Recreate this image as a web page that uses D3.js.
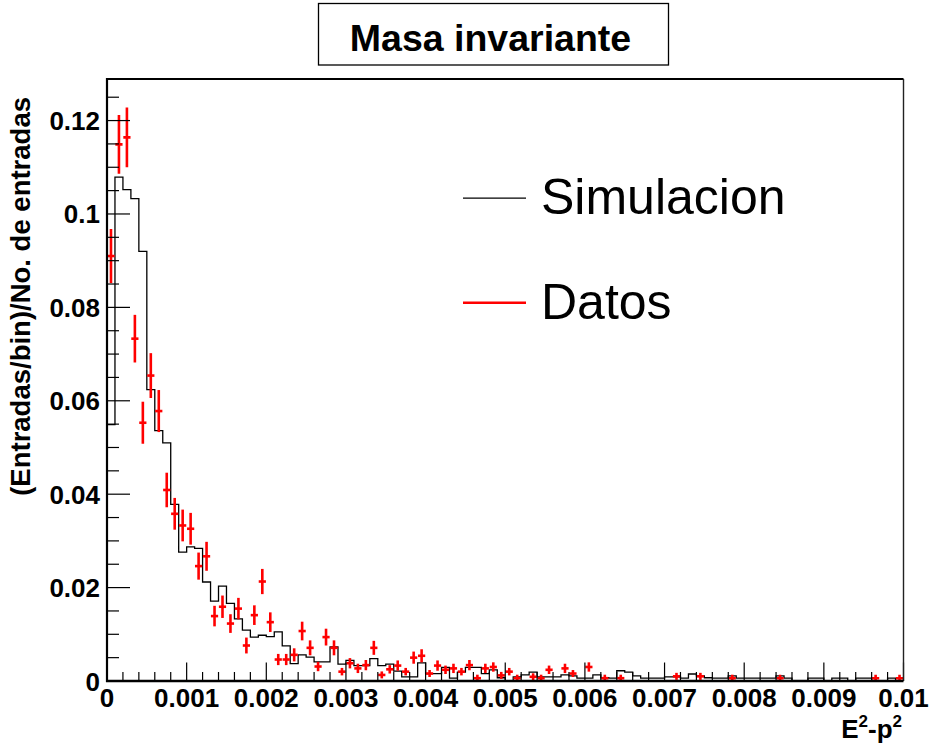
<!DOCTYPE html>
<html>
<head>
<meta charset="utf-8">
<script src="https://cdn.jsdelivr.net/npm/d3@7"></script>
<style>
  html, body { margin: 0; padding: 0; background: #fff; }
  svg { display: block; }
  text { font-family: "Liberation Sans", Arial, Helvetica, sans-serif; }
</style>
</head>
<body>
<svg id="chart" width="930" height="748"></svg>
<script>
// ---------------- data ----------------
const titleText = "Masa invariante";
const xTitle = ["E", "2", "-p", "2"];
const yTitle = "(Entradas/bin)/No. de entradas";
const legendLabels = ["Simulacion", "Datos"];
const xRange = [0, 0.01];
const nBins = 100;
const yMax = 0.1289;
const xTickValues = [0, 0.001, 0.002, 0.003, 0.004, 0.005, 0.006, 0.007, 0.008, 0.009, 0.01];
const xTickLabels = ["0", "0.001", "0.002", "0.003", "0.004", "0.005", "0.006", "0.007", "0.008", "0.009", "0.01"];
const yTickValues = [0, 0.02, 0.04, 0.06, 0.08, 0.1, 0.12];
const yTickLabels = ["0", "0.02", "0.04", "0.06", "0.08", "0.1", "0.12"];

// Simulation histogram, contents of the 100 bins
const simValues = [
  0.0549, 0.1079, 0.1052, 0.1033, 0.0920, 0.0624, 0.0536, 0.0510, 0.0378, 0.0276,
  0.0287, 0.0284, 0.0212, 0.0171, 0.0203, 0.0166, 0.0133, 0.0109, 0.0094, 0.0098,
  0.0095, 0.0105, 0.0075, 0.0037, 0.0056, 0.0051, 0.0041, 0.0041, 0.0073, 0.0036,
  0.0044, 0.0033, 0.0033, 0.0048, 0.0033, 0.0036, 0.0021, 0.0009, 0.0009, 0.0039,
  0.0016, 0.0016, 0.0029, 0.0006, 0.0019, 0.0029, 0.0029, 0.0016, 0.0024, 0.0007,
  0.0000, 0.0009, 0.0013, 0.0019, 0.0009, 0.0009, 0.0009, 0.0013, 0.0011, 0.0006,
  0.0006, 0.0013, 0.0007, 0.0006, 0.0022, 0.0019, 0.0011, 0.0006, 0.0006, 0.0006,
  0.0009, 0.0009, 0.0006, 0.0015, 0.0011, 0.0007, 0.0006, 0.0006, 0.0011, 0.0006,
  0.0006, 0.0006, 0.0006, 0.0006, 0.0011, 0.0006, 0.0000, 0.0000, 0.0006, 0.0006,
  0.0000, 0.0006, 0.0006, 0.0000, 0.0006, 0.0006, 0.0000, 0.0000, 0.0006, 0.0000
];

// Data points (bin contents) and their vertical errors
const dataValues = [
  0.0910, 0.1149, 0.1164, 0.0733, 0.0553, 0.0654, 0.0578, 0.0409, 0.0358, 0.0333,
  0.0326, 0.0246, 0.0267, 0.0139, 0.0159, 0.0123, 0.0155, 0.0076, 0.0141, 0.0213,
  0.0126, 0.0046, 0.0046, 0.0056, 0.0107, 0.0071, 0.0031, 0.0094, 0.0071, 0.0020,
  0.0038, 0.0027, 0.0034, 0.0071, 0.0013, 0.0025, 0.0033, 0.0020, 0.0050, 0.0054,
  0.0016, 0.0033, 0.0024, 0.0027, 0.0020, 0.0034, 0.0006, 0.0027, 0.0030, 0.0012,
  0.0020, 0.0006, 0.0000, 0.0009, 0.0006, 0.0024, 0.0000, 0.0027, 0.0016, 0.0000,
  0.0030, 0.0000, 0.0006, 0.0000, 0.0006, 0.0000, 0.0000, 0.0000, 0.0000, 0.0000,
  0.0000, 0.0010, 0.0000, 0.0000, 0.0010, 0.0000, 0.0000, 0.0000, 0.0006, 0.0000,
  0.0000, 0.0000, 0.0000, 0.0000, 0.0006, 0.0000, 0.0000, 0.0000, 0.0000, 0.0000,
  0.0000, 0.0000, 0.0000, 0.0000, 0.0000, 0.0000, 0.0006, 0.0000, 0.0000, 0.0006
];
const dataErrors = [
  0.0058, 0.0063, 0.0064, 0.0051, 0.0045, 0.0048, 0.0045, 0.0037, 0.0034, 0.0034,
  0.0034, 0.0029, 0.0031, 0.0022, 0.0024, 0.0020, 0.0023, 0.0017, 0.0021, 0.0027,
  0.0021, 0.0012, 0.0012, 0.0014, 0.0020, 0.0016, 0.0010, 0.0018, 0.0016, 0.0008,
  0.0011, 0.0010, 0.0011, 0.0015, 0.0007, 0.0009, 0.0011, 0.0008, 0.0013, 0.0014,
  0.0007, 0.0011, 0.0009, 0.0010, 0.0008, 0.0011, 0.0005, 0.0010, 0.0010, 0.0006,
  0.0008, 0.0005, 0.0000, 0.0006, 0.0005, 0.0009, 0.0000, 0.0010, 0.0007, 0.0000,
  0.0010, 0.0000, 0.0005, 0.0000, 0.0005, 0.0000, 0.0000, 0.0000, 0.0000, 0.0000,
  0.0000, 0.0006, 0.0000, 0.0000, 0.0006, 0.0000, 0.0000, 0.0000, 0.0005, 0.0000,
  0.0000, 0.0000, 0.0000, 0.0000, 0.0005, 0.0000, 0.0000, 0.0000, 0.0000, 0.0000,
  0.0000, 0.0000, 0.0000, 0.0000, 0.0000, 0.0000, 0.0005, 0.0000, 0.0000, 0.0005
];

// ---------------- layout ----------------
const frame = { left: 107, right: 903.5, top: 79, bottom: 681 };
const svg = d3.select("#chart");
const x = d3.scaleLinear().domain(xRange).range([frame.left, frame.right]);
const y = d3.scaleLinear().domain([0, yMax]).range([frame.bottom, frame.top]);
const binW = (xRange[1] - xRange[0]) / nBins;
const edge = i => xRange[0] + i * binW;

svg.append("defs").append("clipPath").attr("id", "clip")
  .append("rect").attr("x", frame.left).attr("y", frame.top)
  .attr("width", frame.right - frame.left).attr("height", frame.bottom - frame.top);

const plot = svg.append("g").attr("clip-path", "url(#clip)");

// Simulation histogram outline
const histPts = [[edge(0), 0]];
simValues.forEach((v, i) => { histPts.push([edge(i), v]); histPts.push([edge(i + 1), v]); });
histPts.push([edge(nBins), 0]);
plot.append("path")
  .attr("d", d3.line().x(d => x(d[0])).y(d => y(d[1]))(histPts))
  .attr("fill", "none").attr("stroke", "#000").attr("stroke-width", 1.3);

// Data points with errors
const pts = dataValues.map((v, i) => ({ c: edge(i) + binW / 2, v, e: dataErrors[i] })).filter(d => d.v > 0);
const dg = plot.append("g").attr("stroke", "#ff0000").attr("stroke-width", 2.6);
dg.selectAll("line.err").data(pts).join("line").attr("class", "err")
  .attr("x1", d => x(d.c)).attr("x2", d => x(d.c))
  .attr("y1", d => Math.min(y(d.v + d.e), y(d.v) - 3.5))
  .attr("y2", d => Math.max(y(d.v - d.e), y(d.v) + 3.5));
dg.selectAll("line.mk").data(pts).join("line").attr("class", "mk")
  .attr("x1", d => x(d.c) - 3.6).attr("x2", d => x(d.c) + 3.6)
  .attr("y1", d => y(d.v)).attr("y2", d => y(d.v));

// Ticks (drawn inside the frame, ROOT style)
const ax = svg.append("g").attr("stroke", "#000").attr("stroke-width", 1.2);
const xMinor = d3.range(0, 51).map(k => k * 0.0002);
ax.selectAll("line.xt").data(xMinor).join("line").attr("class", "xt")
  .attr("x1", d => x(d)).attr("x2", d => x(d))
  .attr("y1", frame.bottom)
  .attr("y2", d => frame.bottom - (xTickValues.some(t => Math.abs(t - d) < 1e-9) ? 18.5 : 9));
const yMinor = d3.range(0, 26).map(k => k * 0.005).filter(v => v <= yMax);
ax.selectAll("line.yt").data(yMinor).join("line").attr("class", "yt")
  .attr("y1", d => y(d)).attr("y2", d => y(d))
  .attr("x1", frame.left)
  .attr("x2", d => frame.left + (yTickValues.some(t => Math.abs(t - d) < 1e-9) ? 23 : 12));

// Frame
svg.append("line").attr("x1", frame.left).attr("x2", frame.right).attr("y1", frame.top).attr("y2", frame.top)
  .attr("stroke", "#000").attr("stroke-width", 2);
svg.append("line").attr("x1", frame.right).attr("x2", frame.right).attr("y1", frame.top).attr("y2", frame.bottom)
  .attr("stroke", "#222").attr("stroke-width", 1.4);
svg.append("line").attr("x1", frame.left).attr("x2", frame.left).attr("y1", frame.top - 1).attr("y2", frame.bottom + 1)
  .attr("stroke", "#000").attr("stroke-width", 2.2);
svg.append("line").attr("x1", frame.left - 1).attr("x2", frame.right).attr("y1", frame.bottom).attr("y2", frame.bottom)
  .attr("stroke", "#000").attr("stroke-width", 2.4);

// Tick labels
svg.append("g").selectAll("text").data(xTickValues).join("text")
  .attr("x", d => x(d)).attr("y", 707)
  .attr("text-anchor", "middle").attr("font-size", 26).attr("font-weight", "bold")
  .text((d, i) => xTickLabels[i]);
svg.append("g").selectAll("text").data(yTickValues).join("text")
  .attr("x", 100).attr("y", d => y(d) + 9.5)
  .attr("text-anchor", "end").attr("font-size", 26).attr("font-weight", "bold")
  .text((d, i) => yTickLabels[i]);

// Axis titles
const xt = svg.append("text").attr("x", 902).attr("y", 738).attr("text-anchor", "end")
  .attr("font-size", 26).attr("font-weight", "bold");
xt.append("tspan").text(xTitle[0]);
xt.append("tspan").attr("font-size", 17).attr("dy", -11.5).text(xTitle[1]);
xt.append("tspan").attr("dy", 11.5).text(xTitle[2]);
xt.append("tspan").attr("font-size", 17).attr("dy", -11.5).text(xTitle[3]);

svg.append("text").attr("transform", "translate(30,97) rotate(-90)")
  .attr("text-anchor", "end").attr("font-size", 27.5).attr("font-weight", "bold")
  .text(yTitle);

// Title box
svg.append("rect").attr("x", 318.5).attr("y", 3.5).attr("width", 350).attr("height", 61.5)
  .attr("fill", "#fff").attr("stroke", "#000").attr("stroke-width", 1.3);
svg.append("text").attr("x", 490.5).attr("y", 50.5).attr("text-anchor", "middle")
  .attr("font-size", 37.5).attr("font-weight", "bold").text(titleText);

// Legend
const legColors = ["#000", "#ff0000"];
const legWidths = [1.2, 2.4];
const legY = [0.1034, 0.0810];
legendLabels.forEach((lab, i) => {
  const yy = y(legY[i]);
  svg.append("line").attr("x1", 463).attr("x2", 526).attr("y1", yy).attr("y2", yy)
    .attr("stroke", legColors[i]).attr("stroke-width", legWidths[i]);
  svg.append("text").attr("x", 541).attr("y", yy + 16).attr("font-size", 50).text(lab);
});
</script>
</body>
</html>
